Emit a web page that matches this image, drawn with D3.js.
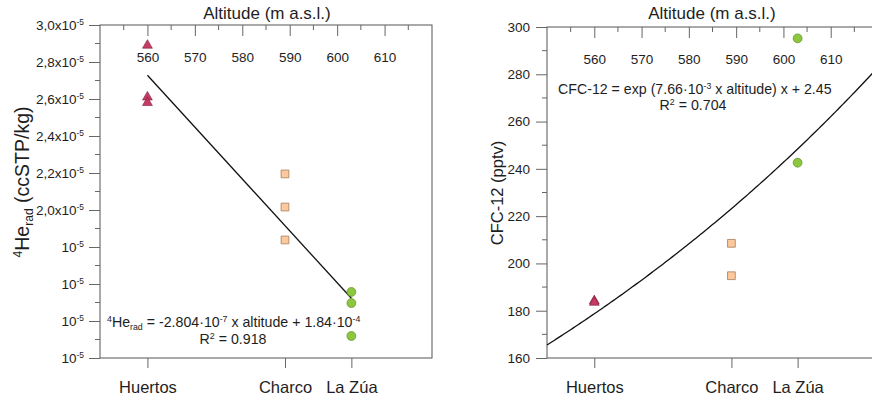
<!DOCTYPE html>
<html>
<head>
<meta charset="utf-8">
<script src="https://cdn.jsdelivr.net/npm/d3@7"></script>
<style>
  html, body { margin: 0; padding: 0; background: #fff; }
  svg { display: block; font-family: "Liberation Sans", Arial, sans-serif; }
</style>
</head>
<body>
<svg id="chart" width="872" height="398"></svg>
<script>
// Sampling sites and their altitude (m a.s.l.)
const sites = ["Huertos", "Charco", "La Zúa"];
const siteAltitude = [560, 589, 603];

// Radiogenic helium, ccSTP/kg
const heHuertos = [2.89e-5, 2.61e-5, 2.58e-5];
const heCharco = [2.195e-5, 2.016e-5, 1.838e-5];
const heLaZua = [1.557e-5, 1.497e-5, 1.319e-5];

// CFC-12, pptv
const cfcHuertos = [184.2, 183.5];
const cfcCharco = [208.5, 194.8];
const cfcLaZua = [242.6, 295.2];

// Fits
const heSlope = -2.804e-7, heIntercept = 1.8431e-4;
const cfcFactor = 2.45, cfcRate = 7.66e-3;

// Axis ticks
const altitudeTicks = [560, 570, 580, 590, 600, 610];
const altitudeMinor = [555, 565, 575, 585, 595, 605, 615];
const heTicks = [1.2e-5, 1.4e-5, 1.6e-5, 1.8e-5, 2.0e-5, 2.2e-5, 2.4e-5, 2.6e-5, 2.8e-5, 3.0e-5];
const heTickLabels = ["10", "10", "10", "10", "2,0x10", "2,2x10", "2,4x10", "2,6x10", "2,8x10", "3,0x10"];
const heTickExponent = "-5";
const cfcTicks = [160, 180, 200, 220, 240, 260, 280, 300];

const colors = {
  triFill: "#c63a64", triStroke: "#7a1f3a",
  sqFill: "#fdc99c", sqStroke: "#a57d5c",
  circFill: "#8dc63f", circStroke: "#5b8c25",
  axis: "#666", frame: "#555", line: "#111", text: "#1e1e1e"
};

const svg = d3.select("#chart");

// Text made of plain / superscript / subscript runs; each run carries its own
// baseline shift relative to the previous run.
function richText(g, x, y, runs, opts = {}) {
  const size = opts.size || 14;
  const t = g.append("text")
    .attr("x", x).attr("y", y)
    .attr("font-size", size)
    .attr("fill", colors.text)
    .attr("text-anchor", opts.anchor || "start");
  if (opts.transform) t.attr("transform", opts.transform);
  const offsets = { sup: -0.36 * size, sub: 0.22 * size };
  let current = 0;
  runs.forEach(r => {
    const [s, kind] = Array.isArray(r) ? r : [r, null];
    const target = kind ? offsets[kind] : 0;
    t.append("tspan").attr("dy", target - current)
      .attr("font-size", kind ? size * 0.62 : size).text(s);
    current = target;
  });
  return t;
}

function drawPanel(cfg) {
  const g = svg.append("g");
  const x = d3.scaleLinear().domain([550, 620]).range([cfg.left, cfg.right]);
  const y = d3.scaleLinear().domain(cfg.yDomain).range([cfg.bottom, cfg.top]);

  // frame
  g.append("rect")
    .attr("x", cfg.left).attr("y", cfg.top)
    .attr("width", cfg.right - cfg.left).attr("height", cfg.bottom - cfg.top)
    .attr("fill", "none").attr("stroke", colors.frame).attr("stroke-width", 1);

  // top altitude axis (ticks pointing inward, labels inside)
  const top = g.append("g").attr("transform", `translate(0,${cfg.top})`);
  top.call(d3.axisBottom(x).tickValues(altitudeTicks).tickSize(11).tickPadding(16).tickFormat(d3.format("d")))
    .call(a => a.select(".domain").remove())
    .call(a => a.selectAll("line").attr("stroke", colors.axis))
    .call(a => a.selectAll("text").attr("font-size", 13.5).attr("fill", colors.text).attr("font-family", null));
  top.selectAll(".minor").data(altitudeMinor).join("line")
    .attr("x1", d => x(d)).attr("x2", d => x(d)).attr("y1", 0).attr("y2", 5)
    .attr("stroke", colors.axis);
  g.append("text").attr("x", cfg.titleX).attr("y", 19)
    .attr("text-anchor", "middle").attr("font-size", 17).attr("fill", colors.text)
    .text("Altitude (m a.s.l.)");

  // bottom site axis
  const bottom = g.append("g").attr("transform", `translate(0,${cfg.bottom})`);
  bottom.call(d3.axisBottom(x).tickValues(siteAltitude).tickSize(10).tickPadding(13)
      .tickFormat((d, i) => sites[i]))
    .call(a => a.select(".domain").remove())
    .call(a => a.selectAll("line").attr("stroke", colors.axis))
    .call(a => a.selectAll("text").attr("font-size", 16.5).attr("fill", colors.text).attr("font-family", null));

  // left value axis (labels optional)
  const left = g.append("g").attr("transform", `translate(${cfg.left},0)`);
  left.call(d3.axisLeft(y).tickValues(cfg.yTicks).tickSize(11).tickPadding(6).tickFormat(cfg.yFormat || (() => "")))
    .call(a => a.select(".domain").remove())
    .call(a => a.selectAll("line").attr("stroke", colors.axis))
    .call(a => a.selectAll("text").attr("font-size", 13.5).attr("fill", colors.text).attr("font-family", null));
  if (!cfg.yFormat) left.selectAll(".tick text").remove();
  left.selectAll(".minor").data(cfg.yMinor).join("line")
    .attr("x1", -5).attr("x2", 0).attr("y1", d => y(d)).attr("y2", d => y(d))
    .attr("stroke", colors.axis);

  return { g, x, y };
}

// ---------- Left panel: radiogenic helium ----------
const heMinor = heTicks.slice(0, -1).map((d, i) => (d + heTicks[i + 1]) / 2);
const L = drawPanel({
  left: 100, right: 432, top: 25, bottom: 358, titleX: 267,
  yDomain: [1.2e-5, 3.0e-5], yTicks: heTicks, yMinor: heMinor,
  yFormat: null
});
// y tick labels with superscript exponent
heTicks.forEach((d, i) => {
  richText(L.g, 84, L.y(d) + 5, [heTickLabels[i], [heTickExponent, "sup"]], { size: 13.5, anchor: "end" });
});
// y title
richText(L.g, 0, 0, [["4", "sup"], "He", ["rad", "sub"], " (ccSTP/kg)"],
  { size: 19.5, anchor: "middle", transform: "translate(29,182) rotate(-90)" });

// regression line over the sampled altitude range
const heFit = a => heSlope * a + heIntercept;
L.g.append("line")
  .attr("x1", L.x(siteAltitude[0])).attr("y1", L.y(heFit(siteAltitude[0])))
  .attr("x2", L.x(siteAltitude[2])).attr("y2", L.y(heFit(siteAltitude[2])))
  .attr("stroke", colors.line).attr("stroke-width", 1.3);

const tri = d3.symbol().type(d3.symbolTriangle).size(42);
const sq = d3.symbol().type(d3.symbolSquare).size(60);
const circ = d3.symbol().type(d3.symbolCircle).size(62);

function drawPoints(P, alt, vals, kind) {
  const sel = P.g.append("g").selectAll("path").data(vals).join("path")
    .attr("transform", d => `translate(${P.x(alt)},${P.y(d)})`);
  if (kind === "tri") sel.attr("d", tri).attr("fill", colors.triFill).attr("stroke", colors.triStroke).attr("stroke-width", 0.6);
  if (kind === "sq") sel.attr("d", sq).attr("fill", colors.sqFill).attr("stroke", colors.sqStroke).attr("stroke-width", 0.8);
  if (kind === "circ") sel.attr("d", circ).attr("fill", colors.circFill).attr("stroke", colors.circStroke).attr("stroke-width", 0.7);
}
drawPoints(L, siteAltitude[0], heHuertos, "tri");
drawPoints(L, siteAltitude[1], heCharco, "sq");
drawPoints(L, siteAltitude[2], heLaZua, "circ");

// fit equation
richText(L.g, 107, 327, [["4", "sup"], "He", ["rad", "sub"], " = -2.804·10", ["-7", "sup"], " x altitude + 1.84·10", ["-4", "sup"]], { size: 14.2 });
richText(L.g, 233, 344, ["R", ["2", "sup"], " = 0.918"], { size: 14.2, anchor: "middle" });

// ---------- Right panel: CFC-12 ----------
const cfcMinor = cfcTicks.slice(0, -1).map((d, i) => (d + cfcTicks[i + 1]) / 2);
const R = drawPanel({
  left: 547, right: 878, top: 27, bottom: 358, titleX: 712,
  yDomain: [160, 300], yTicks: cfcTicks, yMinor: cfcMinor,
  yFormat: d3.format("d")
});
R.g.append("text")
  .attr("transform", "translate(503,193) rotate(-90)")
  .attr("text-anchor", "middle").attr("font-size", 16.5).attr("fill", colors.text)
  .text("CFC-12 (pptv)");

// exponential fit across the altitude axis
const cfcFit = a => cfcFactor * Math.exp(cfcRate * a);
const curveAlt = d3.range(550, 620.01, 0.5);
R.g.append("path")
  .datum(curveAlt)
  .attr("d", d3.line().x(a => R.x(a)).y(a => R.y(cfcFit(a))))
  .attr("fill", "none").attr("stroke", colors.line).attr("stroke-width", 1.3);

drawPoints(R, siteAltitude[0], cfcHuertos, "tri");
drawPoints(R, siteAltitude[1], cfcCharco, "sq");
drawPoints(R, siteAltitude[2], cfcLaZua, "circ");

richText(R.g, 558, 94, ["CFC-12 = exp (7.66·10", ["-3", "sup"], " x altitude) x + 2.45"], { size: 14.2 });
richText(R.g, 693, 110, ["R", ["2", "sup"], " = 0.704"], { size: 14.2, anchor: "middle" });
</script>
</body>
</html>
